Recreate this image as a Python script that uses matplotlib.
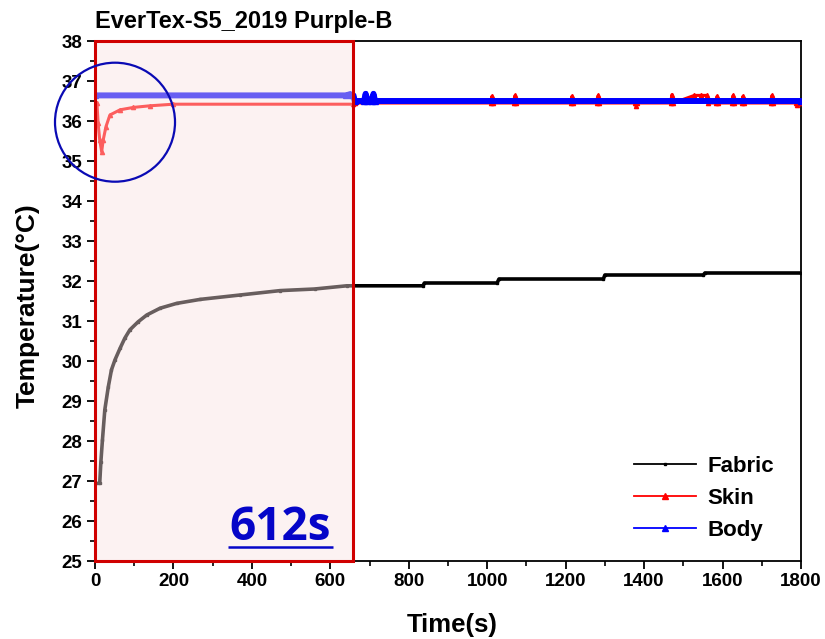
import matplotlib
matplotlib.use("Agg")
import matplotlib.pyplot as plt
from matplotlib.patches import Rectangle, Ellipse
from matplotlib.lines import Line2D
from matplotlib.ticker import MultipleLocator

# data (time in s, temperature in degC)
fabric_t = [0, 12, 15, 19, 25, 34, 42, 51, 64, 76, 89, 110, 132, 166, 208, 268, 370,
            472, 560, 642, 836, 840, 1025, 1030, 1296, 1300, 1551, 1555, 1800]
fabric_T = [26.94, 26.94, 27.48, 28.03, 28.78, 29.36, 29.78, 30.03, 30.32, 30.57, 30.78,
            30.98, 31.15, 31.32, 31.44, 31.54, 31.65, 31.76, 31.80, 31.88, 31.88, 31.95,
            31.95, 32.05, 32.05, 32.15, 32.15, 32.20, 32.20]

skin_t = [0, 5, 8, 12, 17, 21, 28, 38, 64, 98, 140, 200, 659, 662,
          1009, 1012, 1015, 1068, 1071, 1074, 1213, 1216, 1219, 1280, 1283, 1286,
          1376, 1379, 1382, 1468, 1471, 1474, 1528, 1545, 1560, 1563, 1583, 1586, 1589,
          1624, 1627, 1630, 1649, 1652, 1655, 1723, 1726, 1729, 1787, 1790, 1793, 1800]
skin_T = [36.44, 36.44, 35.94, 35.53, 35.23, 35.53, 35.86, 36.15, 36.28, 36.34, 36.38,
          36.42, 36.42, 36.45,
          36.45, 36.62, 36.45, 36.45, 36.64, 36.45, 36.45, 36.62, 36.45, 36.45, 36.64, 36.45,
          36.45, 36.38, 36.45, 36.45, 36.66, 36.45, 36.64, 36.64, 36.64, 36.45, 36.45, 36.62, 36.45,
          36.45, 36.64, 36.45, 36.45, 36.62, 36.45, 36.45, 36.64, 36.45, 36.45, 36.40, 36.45, 36.45]

body_t = [0, 640, 650, 655, 659, 662, 686, 690, 694, 706, 710, 714, 1800]
body_T = [36.64, 36.64, 36.67, 36.64, 36.64, 36.50, 36.50, 36.68, 36.50, 36.50, 36.68, 36.50, 36.50]

window_end = 659
window_label = "612s"

fig = plt.figure(figsize=(8.25, 6.39), dpi=100)
ax = fig.add_axes([95/825, 1-561/639, 706/825, 520/639])

ax.plot(fabric_t, fabric_T, color="black", lw=2.6, marker="s", ms=2, zorder=2)
ax.plot(skin_t, skin_T, color="red", lw=2.2, marker="^", ms=3, zorder=3)
ax.plot(body_t, body_T, color="blue", lw=4.3, marker="^", ms=4, zorder=4)

# shaded window drawn over the data
ax.add_patch(Rectangle((0, 25), window_end, 13, facecolor=(250/255, 226/255, 226/255),
                       alpha=0.42, edgecolor="none", zorder=5))
ax.add_patch(Rectangle((0, 25), window_end, 13, facecolor="none",
                       edgecolor="#d00000", lw=2.2, zorder=6, clip_on=False))

ax.add_patch(Ellipse((51, 35.97), 306, 2.975, facecolor="none", edgecolor="#0a0ab4",
                     lw=1.6, zorder=7, clip_on=False))

ax.text(472, 25.52, window_label, color="#0505c8", fontsize=33, fontweight="bold",
        family="Open Sans", ha="center", va="baseline", zorder=8)
ax.plot([340, 608], [25.35, 25.35], color="#0505c8", lw=1.8, zorder=8,
        solid_capstyle="butt")

ax.set_xlim(0, 1800)
ax.set_ylim(25, 38)
ax.xaxis.set_major_locator(MultipleLocator(200))
ax.xaxis.set_minor_locator(MultipleLocator(100))
ax.yaxis.set_major_locator(MultipleLocator(1))
ax.yaxis.set_minor_locator(MultipleLocator(0.5))
ax.tick_params(which="major", length=6, width=1.3, pad=3)
ax.tick_params(which="minor", length=3.5, width=1.2)
for lab in ax.get_xticklabels() + ax.get_yticklabels():
    lab.set_fontweight("bold")
    lab.set_fontsize(13.5)
    lab.set_family("Liberation Sans")
for s in ax.spines.values():
    s.set_linewidth(1.3)

fig.text(95/825, 1-28/639, "EverTex-S5_2019 Purple-B", fontsize=17, fontweight="bold",
         family="Liberation Sans", ha="left", va="baseline")
fig.text(27.5/825, 1-306/639, "Temperature(°C)", rotation=90, fontsize=19,
         fontweight="bold", family="Liberation Sans", ha="center", va="center")
fig.text(452/825, 1-625/639, "Time(s)", fontsize=18.5, fontweight="bold",
         family="Liberation Sans", ha="center", va="center")

handles = [Line2D([], [], color="black", lw=1.3, marker="s", ms=2),
           Line2D([], [], color="red", lw=1.3, marker="^", ms=4),
           Line2D([], [], color="blue", lw=1.3, marker="^", ms=5)]
ax.legend(handles, ["Fabric", "Skin", "Body"], loc="lower right",
          bbox_to_anchor=(0.99, 0.0), frameon=False, handlelength=2.8,
          labelspacing=0.5, handletextpad=0.5,
          prop={"family": "Liberation Sans", "weight": "bold", "size": 16})

fig.savefig("out.png", dpi=100)
